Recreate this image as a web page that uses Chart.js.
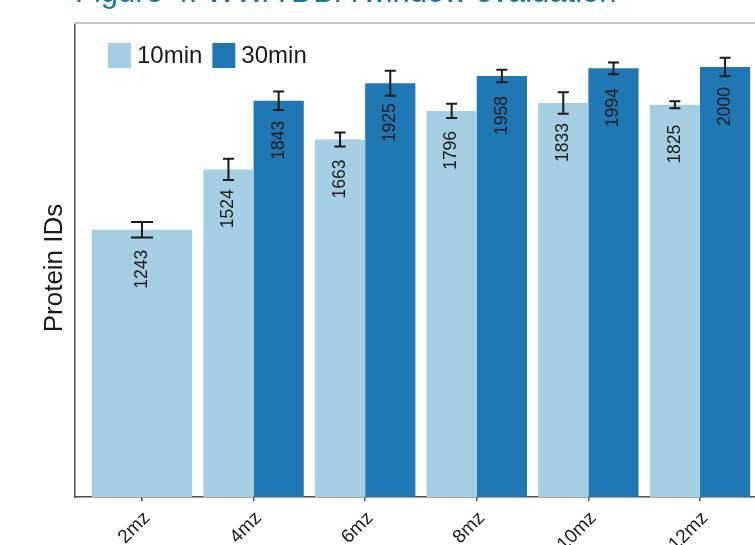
<!DOCTYPE html>
<html>
<head>
<meta charset="utf-8">
<title>WWA DDA window evaluation</title>
<script src="https://cdn.jsdelivr.net/npm/chart.js@4.4.1/dist/chart.umd.min.js"></script>
<style>
  html, body { margin: 0; padding: 0; background: #fff; overflow: hidden; }
  #wrap { position: relative; width: 755px; height: 545px; overflow: hidden; }
  #c { position: absolute; left: 0; top: 0; }
  #fig-title {
    position: absolute; left: 75px; top: -24px;
    font: 31px/31px "Liberation Sans", Arial, sans-serif;
    color: #17799a; white-space: nowrap;
  }
</style>
</head>
<body>
<div id="wrap">
  <canvas id="c" width="755" height="545"></canvas>
  <div id="fig-title">Figure 4. WWA DDA window evaluation</div>
</div>
<script>
// Isolation window widths and protein IDs (mean ± SD) for two gradient lengths
const windows   = ['2mz', '4mz', '6mz', '8mz', '10mz', '12mz'];
const seriesNames = ['10min', '30min'];
const ids10min  = [1243, 1524, 1663, 1796, 1833, 1825];
const ids30min  = [null, 1843, 1925, 1958, 1994, 2000];
const sd10min   = [36, 49, 33, 33, 50, 16];
const sd30min   = [null, 43, 58, 29, 27, 43];
const seriesColors = ['#a6cee3', '#1f78b4'];
const yAxisTitle = 'Protein IDs';

const FONT = '"Liberation Sans", Arial, sans-serif';
Chart.defaults.font.family = FONT;
Chart.defaults.color = '#1a1a1a';

const toPoints = vals => vals.map((v, i) => ({ x: i + 1, y: v }));

// Error bars and rotated value labels, placed from each bar element and the y scale
const barDecor = {
  id: 'barDecor',
  afterDatasetsDraw(chart) {
    const ctx = chart.ctx, yScale = chart.scales.y;
    chart.data.datasets.forEach((ds, di) => {
      const meta = chart.getDatasetMeta(di);
      meta.data.forEach((bar, i) => {
        const v = ds.data[i].y;
        if (v == null) return;
        const e = ds.errors[i];
        const yTop = yScale.getPixelForValue(v + e);
        const yBot = yScale.getPixelForValue(v - e);
        const cap = bar.width * 0.11;
        ctx.save();
        ctx.strokeStyle = '#1a1a1a';
        ctx.lineWidth = 2;
        ctx.beginPath();
        ctx.moveTo(bar.x, yTop); ctx.lineTo(bar.x, yBot);
        ctx.moveTo(bar.x - cap, yTop); ctx.lineTo(bar.x + cap, yTop);
        ctx.moveTo(bar.x - cap, yBot); ctx.lineTo(bar.x + cap, yBot);
        ctx.stroke();
        ctx.translate(bar.x, bar.y + 20);
        ctx.rotate(-Math.PI / 2);
        ctx.font = '17.5px ' + FONT;
        ctx.fillStyle = '#1a1a1a';
        ctx.textAlign = 'right';
        ctx.textBaseline = 'middle';
        ctx.fillText(String(v), 0, 0);
        ctx.restore();
      });
    });
  }
};

// Legend drawn inside the top-left of the plot panel
const insideLegend = {
  id: 'insideLegend',
  afterDraw(chart) {
    const ctx = chart.ctx, a = chart.chartArea;
    let x = a.left + 33;
    const y = a.top + 20;
    ctx.save();
    ctx.font = '24px ' + FONT;
    ctx.textBaseline = 'middle';
    chart.data.datasets.forEach(ds => {
      ctx.fillStyle = ds.backgroundColor;
      ctx.fillRect(x, y, 23, 25);
      ctx.fillStyle = '#1a1a1a';
      ctx.fillText(ds.label, x + 29, y + 13);
      x += 29 + ctx.measureText(ds.label).width + 10;
    });
    ctx.restore();
  }
};

// Light rule along the top of the panel, and the rotated y-axis title
const panelExtras = {
  id: 'panelExtras',
  beforeDatasetsDraw(chart) {
    const ctx = chart.ctx, a = chart.chartArea;
    ctx.save();
    ctx.strokeStyle = '#c6c6c6';
    ctx.lineWidth = 2;
    ctx.beginPath();
    ctx.moveTo(a.left - 1, a.top);
    ctx.lineTo(chart.width, a.top);
    ctx.stroke();
    ctx.restore();
  },
  afterDraw(chart) {
    const ctx = chart.ctx, a = chart.chartArea;
    ctx.save();
    ctx.translate(a.left - 20, (a.top + a.bottom) / 2 + 8);
    ctx.rotate(-Math.PI / 2);
    ctx.font = '26px ' + FONT;
    ctx.fillStyle = '#1a1a1a';
    ctx.textAlign = 'center';
    ctx.textBaseline = 'middle';
    ctx.fillText(yAxisTitle, 0, 0);
    ctx.restore();
  }
};

new Chart(document.getElementById('c'), {
  type: 'bar',
  data: {
    datasets: [
      { label: seriesNames[0], data: toPoints(ids10min), errors: sd10min,
        backgroundColor: seriesColors[0], borderWidth: 0 },
      { label: seriesNames[1], data: toPoints(ids30min), errors: sd30min,
        backgroundColor: seriesColors[1], borderWidth: 0 }
    ]
  },
  options: {
    responsive: false,
    animation: false,
    devicePixelRatio: 1,
    layout: { padding: { left: 38, top: 23, right: 0, bottom: 0 } },
    datasets: { bar: { categoryPercentage: 0.9, barPercentage: 1, skipNull: true } },
    plugins: { legend: { display: false }, tooltip: { enabled: false }, title: { display: false } },
    scales: {
      x: {
        type: 'linear',
        min: 0.4,
        max: 6.493,
        offset: false,
        afterBuildTicks: s => { s.ticks = windows.map((_, i) => ({ value: i + 1 })); },
        afterFit: s => { s.height = 48; },
        grid: { display: true, drawOnChartArea: false, drawTicks: true, tickLength: 4,
                color: '#4d4d4d', lineWidth: 1.5, offset: false },
        border: { display: true, color: '#4d4d4d', width: 1.5 },
        ticks: {
          autoSkip: false, minRotation: 45, maxRotation: 45, padding: 6, labelOffset: 5,
          font: { size: 19 }, color: '#1a1a1a',
          callback: v => windows[Math.round(v) - 1]
        }
      },
      y: {
        min: 0,
        max: 2205,
        afterFit: s => { s.width = 37; },
        ticks: { display: false },
        grid: { display: false, drawTicks: false },
        border: { display: true, color: '#4d4d4d', width: 1.5 },
        title: { display: false }
      }
    }
  },
  plugins: [panelExtras, barDecor, insideLegend]
});
</script>
</body>
</html>
